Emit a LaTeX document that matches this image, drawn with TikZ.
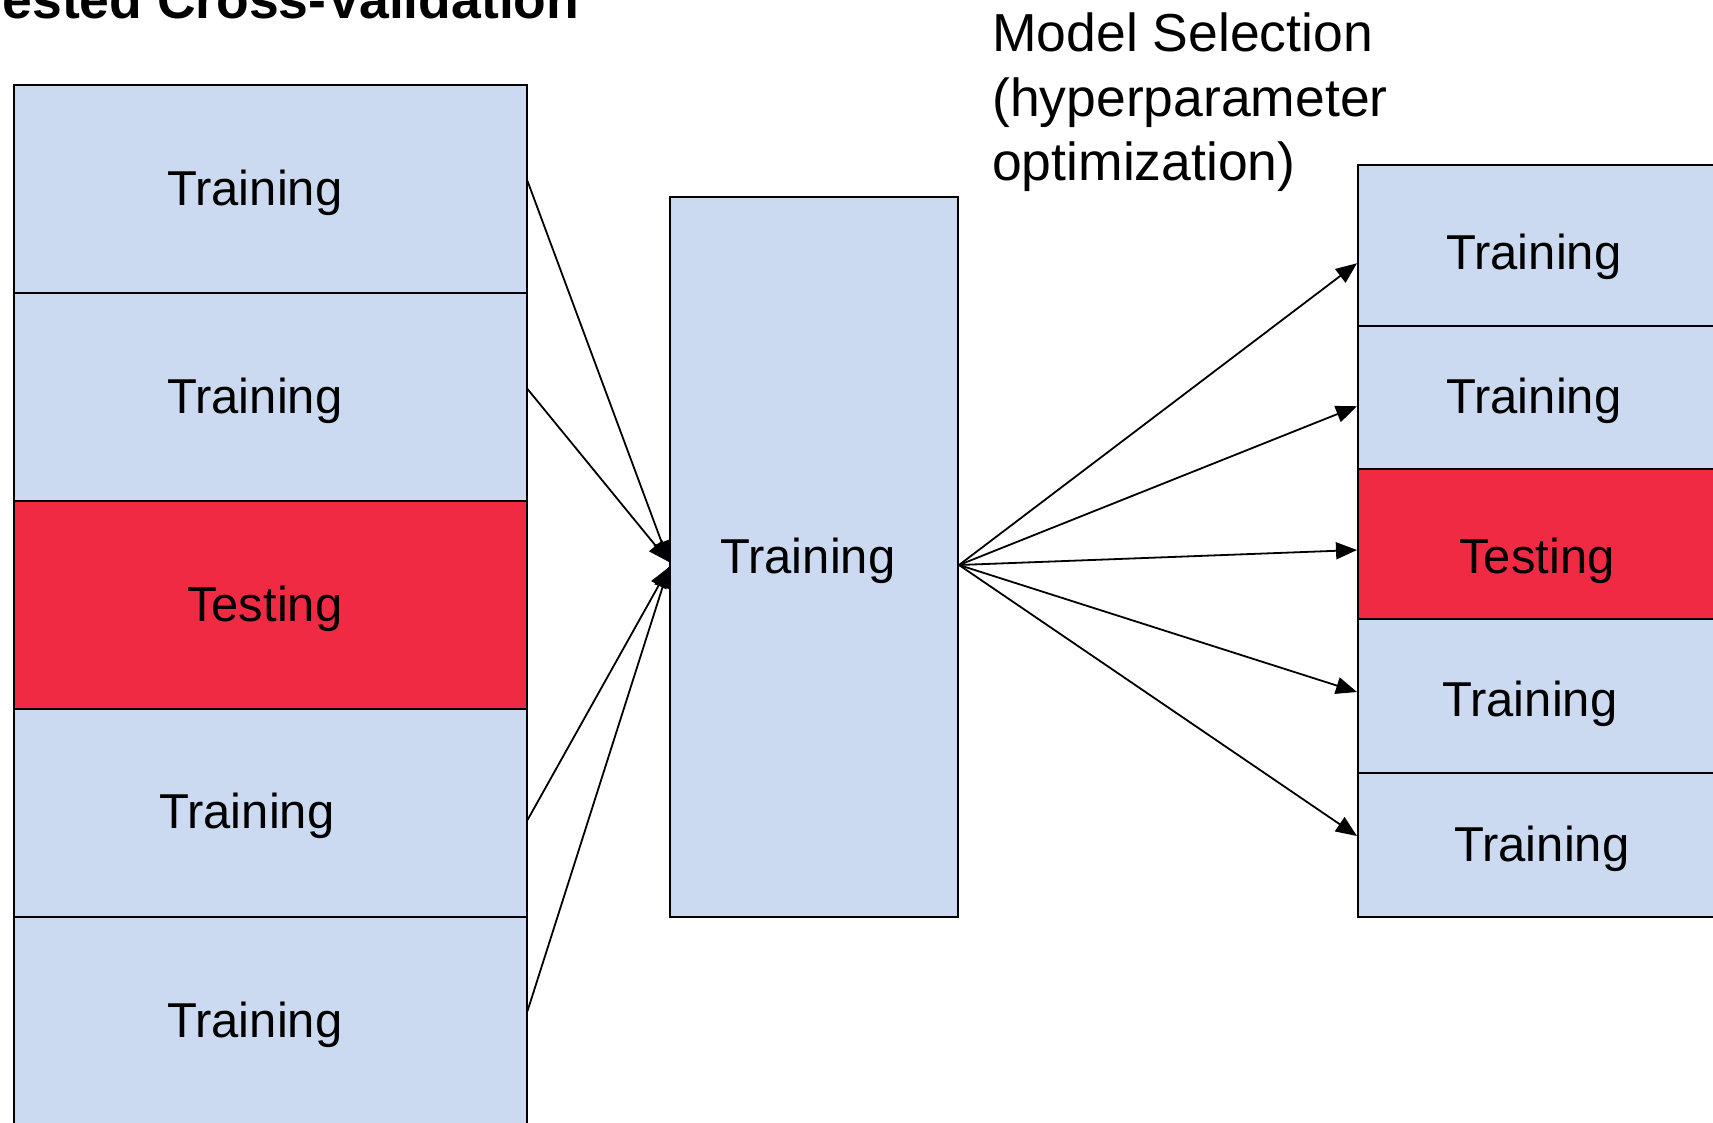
\documentclass[tikz,border=0pt]{standalone}
\usepackage{fontspec}
\setmainfont{Liberation Sans}
\usetikzlibrary{arrows.meta}
\definecolor{cvblue}{RGB}{204,218,241}
\definecolor{cvred}{RGB}{241,42,67}
\begin{document}
\begin{tikzpicture}[x=1pt,y=-1pt,
  cell/.style={draw=black, line width=2pt, fill=cvblue, rectangle, inner sep=0pt, anchor=north west},
  testcell/.style={cell, fill=cvred},
  lbl/.style={anchor=base west, inner sep=0pt, font=\fontsize{49}{58}\selectfont},
  head/.style={anchor=base west, inner sep=0pt, font=\fontsize{53.5}{64}\selectfont},
  conn/.style={line width=1.8pt, -{Triangle[length=21pt,width=17pt]}}]
\useasboundingbox (0,0) rectangle (1713,1122);
\clip (0,0) rectangle (1713,1122);
% title
\node[anchor=base east, inner sep=0pt, font=\bfseries\fontsize{53.5}{64}\selectfont] (title) at (579.5,18) {Nested Cross-Validation};
% left column
\node[cell, minimum width=512.8pt, minimum height=208pt] (bL1) at (12.7,84) {};
\node[cell, minimum width=512.8pt, minimum height=208pt] (bL2) at (12.7,292) {};
\node[testcell, minimum width=512.8pt, minimum height=208pt] (bL3) at (12.7,500) {};
\node[cell, minimum width=512.8pt, minimum height=208pt] (bL4) at (12.7,708) {};
\node[cell, minimum width=512.8pt, minimum height=208pt] (bL5) at (12.7,916) {};
\node[lbl] (tL1) at (167,205) {Training};
\node[lbl] (tL2) at (167,413) {Training};
\node[lbl] (tL3) at (187,621) {Testing};
\node[lbl] (tL4) at (159,828) {Training};
\node[lbl] (tL5) at (167,1037) {Training};
% middle box
\node[cell, minimum width=288pt, minimum height=720pt] (bM) at (669,196) {};
\node[lbl] (tM) at (720,573) {Training};
% model selection label
\node[head] (h1) at (992,51) {Model Selection};
\node[head] (h2) at (992,116) {(hyperparameter};
\node[head] (h3) at (992,180) {optimization)};
% right column
\node[cell, minimum width=420pt, minimum height=160.5pt] (bR1) at (1357,164) {};
\node[cell, minimum width=420pt, minimum height=143.5pt] (bR2) at (1357,324.5) {};
\node[testcell, minimum width=420pt, minimum height=150pt] (bR3) at (1357,468) {};
\node[cell, minimum width=420pt, minimum height=154pt] (bR4) at (1357,618) {};
\node[cell, minimum width=420pt, minimum height=144pt] (bR5) at (1357,772) {};
\node[lbl] (tR1) at (1446,269) {Training};
\node[lbl] (tR2) at (1446,413) {Training};
\node[lbl] (tR3) at (1459,573) {Testing};
\node[lbl] (tR4) at (1442,716) {Training};
\node[lbl] (tR5) at (1454,861) {Training};
% arrows left -> middle
\draw[conn] ([yshift=8pt]bL1.east) -- ([yshift=-5pt]bM.west);
\draw[conn] ([yshift=8pt]bL2.east) -- ([yshift=-5pt]bM.west);
\draw[conn] ([yshift=-7pt]bL4.east) -- ([yshift=-10pt]bM.west);
\draw[conn] ([yshift=10pt]bL5.east) -- ([yshift=-10pt]bM.west);
% arrows middle -> right
\draw[conn] ([yshift=-8pt]bM.east) -- ([yshift=-18pt]bR1.west);
\draw[conn] ([yshift=-8pt]bM.east) -- ([yshift=-9pt]bR2.west);
\draw[conn] ([yshift=-8pt]bM.east) -- ([yshift=-6pt]bR3.west);
\draw[conn] ([yshift=-8pt]bM.east) -- ([yshift=4pt]bR4.west);
\draw[conn] ([yshift=-8pt]bM.east) -- ([yshift=9pt]bR5.west);
\end{tikzpicture}
\end{document}
